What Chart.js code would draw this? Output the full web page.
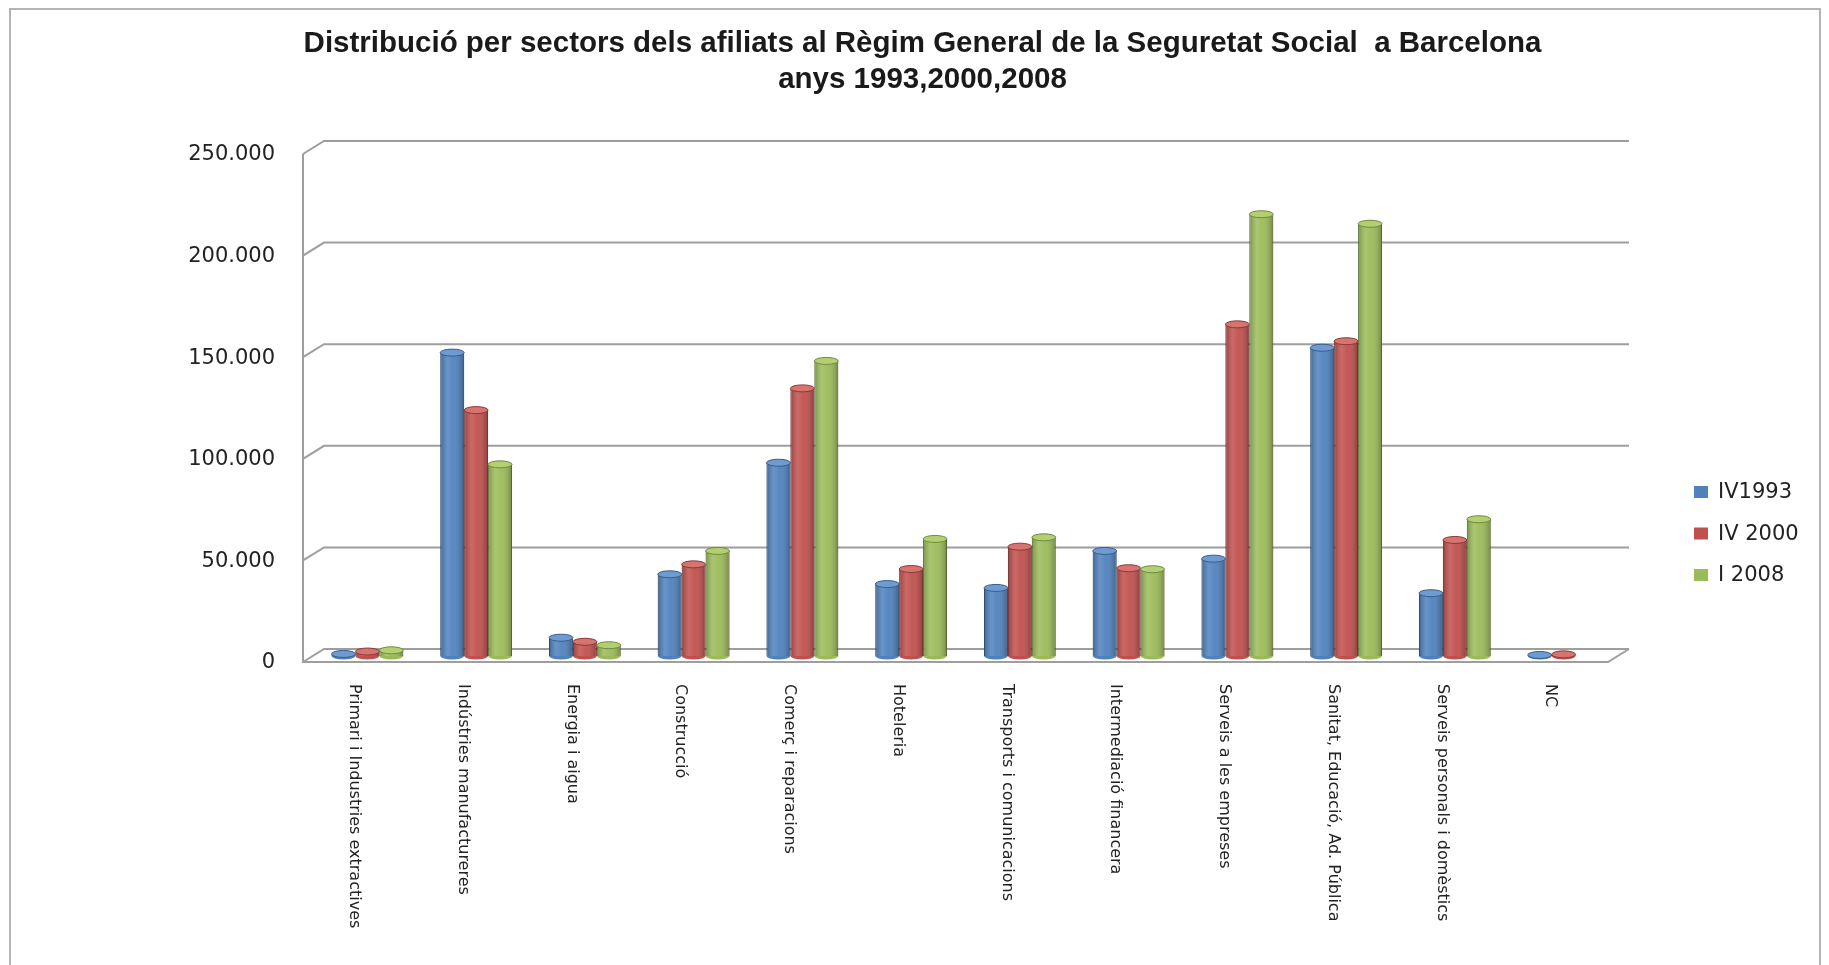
<!DOCTYPE html>
<html>
<head>
<meta charset="utf-8">
<title>Afiliats Barcelona</title>
<script src="https://cdn.jsdelivr.net/npm/chart.js@4.4.0/dist/chart.umd.min.js"></script>
<style>
  body { margin: 0; background: #fff; }
  #wrap { width: 1829px; height: 965px; position: relative; }
</style>
</head>
<body>
<div id="wrap"><canvas id="chart"></canvas></div>
<script>
// Sectors (x axis categories)
const sectors = [
  'Primari i Industries extractives',
  'Indústries manufactureres',
  'Energia i aigua',
  'Construcció',
  'Comerç i reparacions',
  'Hoteleria',
  'Transports i comunicacions',
  'Intermediació financera',
  'Serveis a les empreses',
  'Sanitat, Educació, Ad. Pública',
  'Serveis personals i domèstics',
  'NC'
];

// Series labels
const seriesNames = ['IV1993', 'IV 2000', 'I 2008'];

// Affiliates per sector
const values1993 = [1000, 149300, 9000, 40200, 95100, 35400, 33500, 51700, 47900, 151700, 30900, 500];
const values2000 = [2200, 121000, 7000, 45100, 131700, 42800, 53800, 43200, 163200, 154900, 57100, 800];
const values2008 = [2800, 94300, 5300, 51700, 145200, 57600, 58400, 42700, 217400, 212700, 67300, 0];

// Y axis ticks
const yTicks = [0, 50000, 100000, 150000, 200000, 250000];

const titleLines = [
  'Distribució per sectors dels afiliats al Règim General de la Seguretat Social  a Barcelona',
  'anys 1993,2000,2008'
];

const fills = ['#4f81bd', '#c0504d', '#9bbb59'];
const edges = ['#385d8a', '#8c3836', '#71893f'];
const tops = ['#6f9bd3', '#d87470', '#b2d070'];

// depth offsets of the fake 3d box
const BACK = { dx: 11, dy: -7 };
const FRONT = { dx: -10, dy: 6 };
const GRID = '#9e9e9e';

// format like 250.000
function formatThousands(v) {
  return String(v).replace(/\B(?=(\d{3})+(?!\d))/g, '.');
}

// Walls, floor and gridlines behind the columns
const box3d = {
  id: 'box3d',
  beforeDraw(chart) {
    const ctx = chart.ctx;
    ctx.save();
    ctx.fillStyle = '#fff';
    ctx.fillRect(0, 0, chart.width, chart.height);
    ctx.strokeStyle = '#b4b4b4';
    ctx.lineWidth = 2;
    ctx.strokeRect(10, 9, chart.width - 19, chart.height + 10);
    ctx.restore();
  },
  beforeDatasetsDraw(chart) {
    const ctx = chart.ctx;
    const y = chart.scales.y;
    const { left, right } = chart.chartArea;
    ctx.save();
    ctx.strokeStyle = GRID;
    ctx.lineWidth = 2;
    yTicks.forEach(v => {
      const py = y.getPixelForValue(v);
      ctx.beginPath();
      ctx.moveTo(left + FRONT.dx, py + FRONT.dy);
      ctx.lineTo(left + BACK.dx, py + BACK.dy);
      ctx.lineTo(right + BACK.dx, py + BACK.dy);
      ctx.stroke();
    });
    // front left edge and floor
    const top = y.getPixelForValue(yTicks[yTicks.length - 1]);
    const bottom = y.getPixelForValue(0);
    ctx.beginPath();
    ctx.moveTo(left + FRONT.dx, top + FRONT.dy);
    ctx.lineTo(left + FRONT.dx, bottom + FRONT.dy);
    ctx.lineTo(right + FRONT.dx, bottom + FRONT.dy);
    ctx.lineTo(right + BACK.dx, bottom + BACK.dy);
    ctx.stroke();
    ctx.restore();
  },
  // cylinder shading and caps on top of each column
  afterDatasetsDraw(chart) {
    const ctx = chart.ctx;
    ctx.save();
    chart.data.datasets.forEach((ds, di) => {
      const meta = chart.getDatasetMeta(di);
      meta.data.forEach((bar, i) => {
        if (!ds.data[i]) return;
        const { x, y, base, width } = bar.getProps(['x', 'y', 'base', 'width'], true);
        const l = x - width / 2;
        const ry = 3.5;
        const g = ctx.createLinearGradient(l, 0, l + width, 0);
        g.addColorStop(0, 'rgba(0,0,0,0.22)');
        g.addColorStop(0.3, 'rgba(255,255,255,0.15)');
        g.addColorStop(0.55, 'rgba(255,255,255,0.05)');
        g.addColorStop(1, 'rgba(0,0,0,0.28)');
        ctx.fillStyle = g;
        ctx.fillRect(l, y, width, base - y);
        // rounded bottom
        ctx.beginPath();
        ctx.ellipse(x, base, width / 2, ry, 0, 0, Math.PI);
        ctx.fillStyle = fills[di];
        ctx.fill();
        // cap
        ctx.beginPath();
        ctx.ellipse(x, y, width / 2, ry, 0, 0, Math.PI * 2);
        ctx.fillStyle = tops[di];
        ctx.fill();
        ctx.strokeStyle = edges[di];
        ctx.lineWidth = 1;
        ctx.stroke();
      });
    });
    ctx.restore();
  },
  // rotated sector labels and the legend
  afterDraw(chart) {
    const ctx = chart.ctx;
    const x = chart.scales.x;
    ctx.save();
    ctx.fillStyle = '#222';
    ctx.font = '16px "DejaVu Sans"';
    ctx.textAlign = 'left';
    ctx.textBaseline = 'middle';
    sectors.forEach((s, i) => {
      ctx.save();
      ctx.translate(x.getPixelForValue(i) - 13, 684);
      ctx.rotate(Math.PI / 2);
      ctx.fillText(s, 0, 0);
      ctx.restore();
    });

    ctx.font = '21px "DejaVu Sans"';
    seriesNames.forEach((name, i) => {
      const cy = 492 + i * 41.5;
      ctx.fillStyle = fills[i];
      ctx.fillRect(1694, cy - 6, 14, 12);
      ctx.fillStyle = '#222';
      ctx.fillText(name, 1718, cy + 1);
    });
    ctx.restore();
  }
};

function buildDatasets() {
  return [values1993, values2000, values2008].map((vals, i) => ({
    label: seriesNames[i],
    data: vals,
    backgroundColor: fills[i],
    borderColor: edges[i],
    borderWidth: { left: 1, right: 1, top: 0, bottom: 0 },
    borderSkipped: false,
    categoryPercentage: 0.66,
    barPercentage: 1.0
  }));
}

function initChart() {
  const ctx = document.getElementById('chart').getContext('2d');
  new Chart(ctx, {
    type: 'bar',
    data: { labels: sectors, datasets: buildDatasets() },
    options: {
      responsive: true,
      maintainAspectRatio: false,
      animation: false,
      layout: { padding: { top: 0, right: 0, bottom: 309, left: 16 } },
      scales: {
        x: { display: false },
        y: {
          min: 0,
          max: 250000,
          afterFit: scale => { scale.width = 297; },
          afterBuildTicks: scale => { scale.ticks = yTicks.map(v => ({ value: v })); },
          grid: { display: false, drawTicks: false },
          border: { display: false },
          ticks: {
            padding: 38,
            labelOffset: 7,
            color: '#222',
            font: { family: 'DejaVu Sans', size: 21 },
            callback: v => formatThousands(v)
          }
        },
        // empty right axis: keeps room for the legend, title stays centred on the page
        legendSpace: {
          type: 'linear',
          position: 'right',
          afterFit: scale => { scale.width = 211; },
          grid: { display: false, drawTicks: false },
          border: { display: false },
          ticks: { display: false }
        }
      },
      plugins: {
        legend: { display: false },
        tooltip: { enabled: false },
        title: {
          display: true,
          text: titleLines,
          color: '#1a1a1a',
          font: { family: 'Liberation Sans', size: 29.5, weight: 'bold', lineHeight: 1.22 },
          padding: { top: 26, bottom: 50 }
        }
      }
    },
    plugins: [box3d]
  });
}

document.addEventListener('DOMContentLoaded', initChart);
</script>
</body>
</html>
